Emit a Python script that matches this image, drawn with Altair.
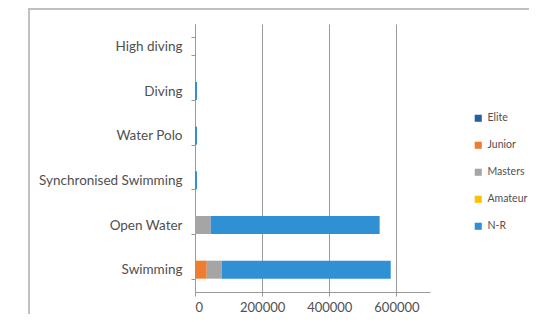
import altair as alt
import pandas as pd

categories = ["High diving", "Diving", "Water Polo", "Synchronised Swimming", "Open Water", "Swimming"]
series = ["Elite", "Junior", "Masters", "Amateur", "N-R"]
colors = ["#245f9e", "#ed7d31", "#a5a5a5", "#ffc000", "#3090d4"]

elite = [0, 0, 0, 0, 0, 0]
junior = [0, 0, 0, 0, 0, 35000]
masters = [0, 0, 0, 0, 47000, 45000]
amateur = [0, 0, 0, 0, 0, 0]
nr = [0, 6000, 6000, 6000, 503000, 503000]

x_ticks = [0, 200000, 400000, 600000]

rows = []
for si, (s, vals) in enumerate(zip(series, [elite, junior, masters, amateur, nr])):
    for c, v in zip(categories, vals):
        rows.append({"Sport": c, "Level": s, "Value": v, "ord": si})
df = pd.DataFrame(rows)

font = "Lato"
grey_text = "#505050"
line_grey = "#9a9a9a"

bars = alt.Chart(df).mark_bar(size=18).encode(
    y=alt.Y("Sport:N", sort=categories, title=None,
            scale=alt.Scale(paddingInner=0.6, paddingOuter=0.3),
            axis=alt.Axis(tickBand="extent", domainColor=line_grey, tickColor=line_grey,
                          tickSize=4, labelFontSize=13.5, labelColor=grey_text, labelFont=font,
                          labelPadding=9, labelLimit=300)),
    x=alt.X("Value:Q", stack="zero", title=None,
            scale=alt.Scale(domain=[0, 700000], nice=False),
            axis=alt.Axis(values=x_ticks, format="d", grid=True, gridColor=line_grey,
                          domainColor=line_grey, tickColor=line_grey, tickSize=4,
                          labelFontSize=13, labelColor=grey_text, labelFont=font,
                          labelPadding=5)),
    color=alt.Color("Level:N", scale=alt.Scale(domain=series, range=colors),
                    legend=alt.Legend(title=None, orient="none", legendX=278, legendY=89,
                                      symbolType="square", symbolSize=50, rowPadding=16,
                                      symbolOffset=0, labelOffset=4,
                                      labelFontSize=10.5, labelColor=grey_text, labelFont=font,
                                      symbolStrokeWidth=0)),
    order=alt.Order("ord:Q"),
)

frame = alt.Chart(df).mark_rect(fill="transparent", stroke="#c0c0c0", strokeWidth=1.5).encode(
    x=alt.value(-166), x2=alt.value(420), y=alt.value(-15), y2=alt.value(420)
)

chart = alt.layer(frame, bars).properties(
    width=235, height=268,
    autosize=alt.AutoSizeParams(type="none"),
    padding={"left": 187, "top": 16, "right": 99, "bottom": 22},
).configure_view(strokeWidth=0)

chart.save("out.html", embed_options={"renderer": "svg", "actions": False})
